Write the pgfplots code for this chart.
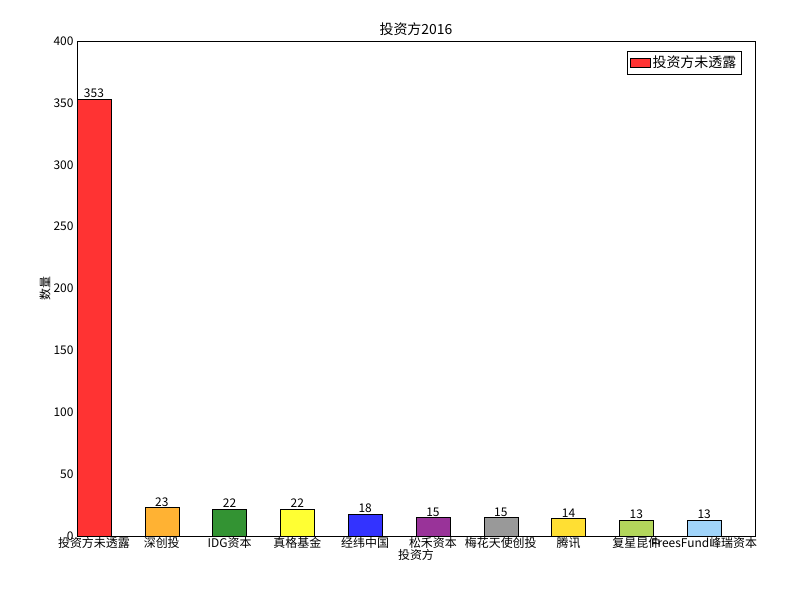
\documentclass[border=0pt]{standalone}
\usepackage{pgfplots}
\pgfplotsset{compat=1.18}
\usepackage{fontspec}
\setmainfont{Noto Sans CJK SC}
\begin{document}
\begin{tikzpicture}
\begin{axis}[
 name=ax,
 width=678bp, height=495bp, scale only axis,
 xmin=-0.25, xmax=9.75, ymin=0, ymax=400,
 ytick={0,50,...,400},
 xtick={0,...,9},
 xticklabels={投资方未透露,深创投,IDG资本,真格基金,经纬中国,松禾资本,梅花天使创投,腾讯,复星昆仲,FreesFund峰瑞资本},
 xticklabel style={font=\fontsize{12}{14}\selectfont, inner sep=1pt},
 yticklabel style={font=\fontsize{12}{14}\selectfont},
 /pgf/number format/assume math mode=true,
 tick align=inside, xtick pos=bottom, ytick pos=left,
 major tick length=4pt,
 xlabel={投资方}, ylabel={数量},
 xlabel style={font=\fontsize{12}{14}\selectfont, yshift=4pt},
 ylabel style={font=\fontsize{12}{14}\selectfont, yshift=-4pt},
 title={投资方2016}, title style={font=\fontsize{14}{16}\selectfont, yshift=-4pt},
 legend style={at={(0.98,0.98)}, anchor=north east, font=\fontsize{14}{16}\selectfont, draw=black, inner sep=3pt},
 legend image code/.code={\draw[#1] (0cm,-0.15cm) rectangle (0.7cm,0.15cm);},
 nodes near coords, nodes near coords style={font=\fontsize{12}{14}\selectfont, black, inner sep=1pt},
 every axis plot/.append style={ybar, bar width=34bp, bar shift=0pt, draw=black, line width=0.4pt},
]
\addplot[fill=red!80!white] coordinates {(0,353)};
\addlegendentry{投资方未透露}
\addplot[fill={rgb,255:red,255;green,178;blue,51}, forget plot] coordinates {(1,23)};
\addplot[fill={rgb,255:red,51;green,147;blue,51}, forget plot] coordinates {(2,22)};
\addplot[fill={rgb,255:red,255;green,255;blue,51}, forget plot] coordinates {(3,22)};
\addplot[fill={rgb,255:red,51;green,51;blue,255}, forget plot] coordinates {(4,18)};
\addplot[fill={rgb,255:red,153;green,51;blue,153}, forget plot] coordinates {(5,15)};
\addplot[fill={rgb,255:red,153;green,153;blue,153}, forget plot] coordinates {(6,15)};
\addplot[fill={rgb,255:red,255;green,223;blue,51}, forget plot] coordinates {(7,14)};
\addplot[fill={rgb,255:red,179;green,214;blue,91}, forget plot] coordinates {(8,13)};
\addplot[fill={rgb,255:red,160;green,212;blue,250}, forget plot] coordinates {(9,13)};
\end{axis}
\pgfresetboundingbox
\path (ax.south west) ++(-77bp,-64bp) rectangle ++(800bp,600bp);
\end{tikzpicture}
\end{document}
